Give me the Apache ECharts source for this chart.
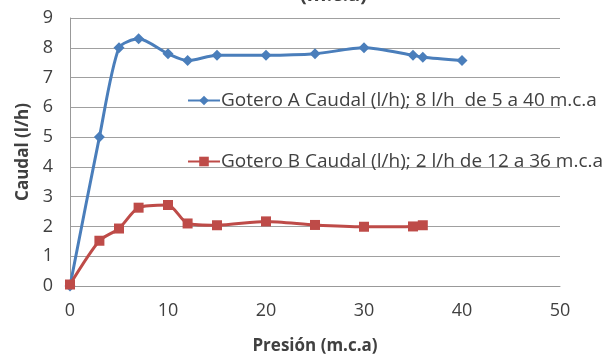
<!DOCTYPE html>
<html><head><meta charset="utf-8">
<script src="https://cdn.jsdelivr.net/npm/echarts@6/dist/echarts.min.js"></script>
<style>html,body{margin:0;padding:0;background:#fff}#c{width:606px;height:360px}</style>
</head><body><div id="c"></div>
<script>
const presion = [0, 3, 5, 7, 10, 12, 15, 20, 25, 30, 35, 36, 40];
const goteroA = [0, 5.0, 8.0, 8.3, 7.8, 7.57, 7.75, 7.75, 7.8, 8.0, 7.75, 7.68, 7.57];
const presionB = [0, 3, 5, 7, 10, 12, 15, 20, 25, 30, 35, 36];
const goteroB = [0.05, 1.52, 1.93, 2.63, 2.72, 2.1, 2.04, 2.17, 2.05, 1.99, 2.0, 2.04];
const nameA = 'Gotero A Caudal (l/h); 8 l/h  de 5 a 40 m.c.a';
const nameB = 'Gotero B Caudal (l/h); 2 l/h de 12 a 36 m.c.a';
const font = 'Open Sans, Noto Sans, sans-serif';
const chart = echarts.init(document.getElementById('c'));
chart.setOption({
  animation: false,
  backgroundColor: '#fff',
  graphic: [{
    type: 'text', left: 300, top: -15,
    style: { text: '(m.c.a)', font: 'bold 20px ' + font, fill: '#404040' }
  }],
  grid: { left: 70, right: 46, top: 18, bottom: 74 },
  legend: {
    orient: 'vertical', left: 182, top: 86, itemGap: 42,
    itemWidth: 32, itemHeight: 12,
    textStyle: { fontFamily: font, fontSize: 19, color: '#404040', padding: [0, 0, 0, -4] },
    data: [nameA, nameB]
  },
  xAxis: {
    type: 'value', min: 0, max: 50, interval: 10,
    name: 'Presión (m.c.a)', nameLocation: 'middle', nameGap: 52,
    nameTextStyle: { fontFamily: font, fontWeight: 'bold', fontSize: 17, color: '#404040' },
    axisLine: { show: true, lineStyle: { color: '#999', width: 1 } },
    axisTick: { show: false },
    splitLine: { show: false },
    axisLabel: { fontFamily: font, fontSize: 18, color: '#404040', margin: 16 }
  },
  yAxis: {
    type: 'value', min: 0, max: 9, interval: 1,
    name: 'Caudal (l/h)', nameLocation: 'middle', nameGap: 38, nameRotate: 90,
    nameTextStyle: { fontFamily: font, fontWeight: 'bold', fontSize: 17, color: '#404040' },
    axisLine: { show: true, lineStyle: { color: '#999', width: 1 } },
    axisTick: { show: false },
    splitLine: { show: true, lineStyle: { color: '#a0a0a0', width: 1 } },
    axisLabel: { fontFamily: font, fontSize: 18, color: '#404040', margin: 17 }
  },
  series: [
    {
      name: nameA, type: 'line', smooth: 0.25,
      data: presion.map((x, i) => [x, goteroA[i]]),
      symbol: 'diamond', symbolSize: 11,
      itemStyle: { color: '#4A7EBB' },
      lineStyle: { color: '#4A7EBB', width: 3 }
    },
    {
      name: nameB, type: 'line', smooth: 0.25,
      data: presionB.map((x, i) => [x, goteroB[i]]),
      symbol: 'rect', symbolSize: 10,
      itemStyle: { color: '#BE4B48' },
      lineStyle: { color: '#BE4B48', width: 3 }
    }
  ]
});
</script></body></html>
